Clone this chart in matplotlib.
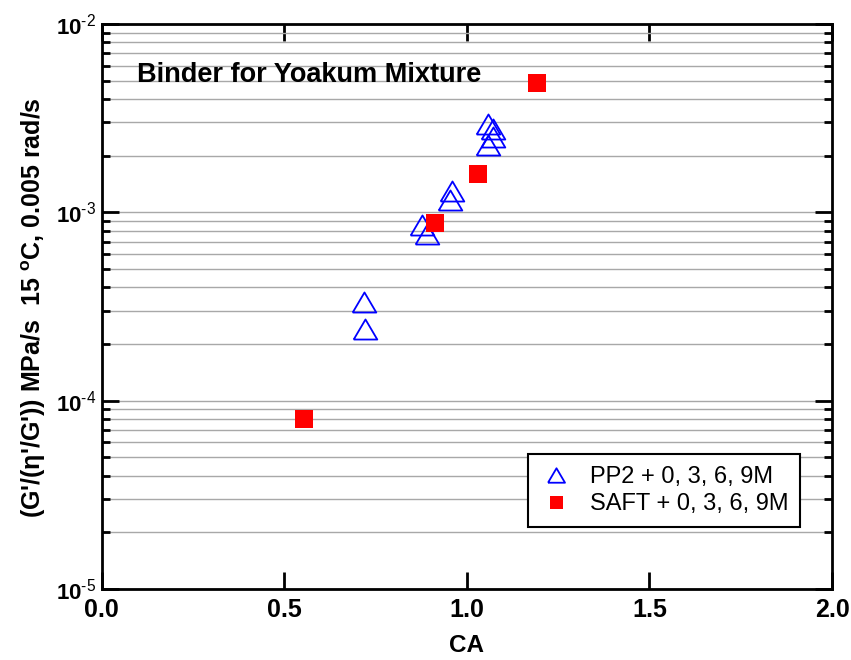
import matplotlib
matplotlib.use("Agg")
import matplotlib.pyplot as plt
from matplotlib.ticker import LogLocator, FixedLocator, NullFormatter

plt.rcParams['font.family'] = ['Liberation Sans', 'DejaVu Sans']
plt.rcParams['mathtext.fontset'] = 'custom'
plt.rcParams['mathtext.rm'] = 'Liberation Sans'
plt.rcParams['mathtext.bf'] = 'Liberation Sans:bold'
plt.rcParams['mathtext.it'] = 'Liberation Sans:italic'

# data
pp2_ca = [1.059, 1.072, 1.073, 1.058, 0.960, 0.954, 0.877, 0.890, 0.719, 0.720]
pp2_val = [2.96e-3, 2.76e-3, 2.51e-3, 2.27e-3, 1.30e-3, 1.17e-3, 8.53e-4, 7.67e-4, 3.34e-4, 2.39e-4]
saft_ca = [0.555, 0.912, 1.032, 1.192]
saft_val = [7.96e-5, 8.78e-4, 1.59e-3, 4.88e-3]

x_ticks = [0.0, 0.5, 1.0, 1.5, 2.0]
y_ticks = [1e-5, 1e-4, 1e-3, 1e-2]
y_tick_labels = [r'$\mathbf{10}^{\text{-5}}$', r'$\mathbf{10}^{\text{-4}}$',
                 r'$\mathbf{10}^{\text{-3}}$', r'$\mathbf{10}^{\text{-2}}$']

fig = plt.figure(figsize=(8.51, 6.6), dpi=100)
ax = fig.add_axes([0.1193, 0.1076, 0.8584, 0.856])

tri = [(-1, -0.85), (1, -0.85), (0, 0.85), (-1, -0.85)]

ax.plot(pp2_ca, pp2_val, linestyle='none', marker=tri, ms=17, mfc='none',
        mec='#0000ff', mew=1.3, label='PP2 + 0, 3, 6, 9M')
ax.plot(saft_ca, saft_val, linestyle='none', marker='s', ms=13, mfc='#ff0000',
        mec='#ff0000', mew=0, label='SAFT + 0, 3, 6, 9M')

ax.set_yscale('log')
ax.set_xlim(0, 2)
ax.set_ylim(1e-5, 1e-2)

ax.xaxis.set_major_locator(FixedLocator(x_ticks))
ax.set_xticklabels(['%.1f' % v for v in x_ticks], fontsize=18, fontweight='bold')
ax.yaxis.set_major_locator(FixedLocator(y_ticks))
ax.set_yticklabels(y_tick_labels, fontsize=16)
ax.yaxis.set_minor_locator(LogLocator(base=10, subs=range(2, 10)))
ax.yaxis.set_minor_formatter(NullFormatter())

ax.grid(True, which='both', axis='y', color='#a8a8a8', linewidth=1.0)
ax.set_axisbelow(True)

ax.tick_params(which='both', direction='in', top=True, right=True, width=2)
ax.tick_params(which='major', length=12)
ax.tick_params(which='minor', length=6)
ax.tick_params(axis='x', which='major', pad=6.5)
ax.tick_params(axis='y', which='major', pad=4)
for s in ax.spines.values():
    s.set_linewidth(2)

ax.set_xlabel('CA', fontsize=17.5, fontweight='bold')
ax.xaxis.set_label_coords(0.5, -0.079)
ax.set_ylabel("(G'/(η'/G')) MPa/s  15 $^{\\mathbf{o}}$C, 0.005 rad/s",
              fontsize=18, fontweight='bold')
ax.yaxis.set_label_coords(-0.073, 0.498)

ax.text(0.048, 0.898, 'Binder for Yoakum Mixture', transform=ax.transAxes,
        fontsize=19.5, fontweight='bold')

leg = ax.legend(loc='upper left', bbox_to_anchor=(0.5838, 0.2389), borderaxespad=0,
                fontsize=17, markerscale=0.72, frameon=True, fancybox=False,
                edgecolor='black', framealpha=1, handlelength=1.4,
                handletextpad=0.72, borderpad=0.5, labelspacing=0.23)
leg.get_frame().set_linewidth(1.5)

fig.savefig('out.png', dpi=100)
